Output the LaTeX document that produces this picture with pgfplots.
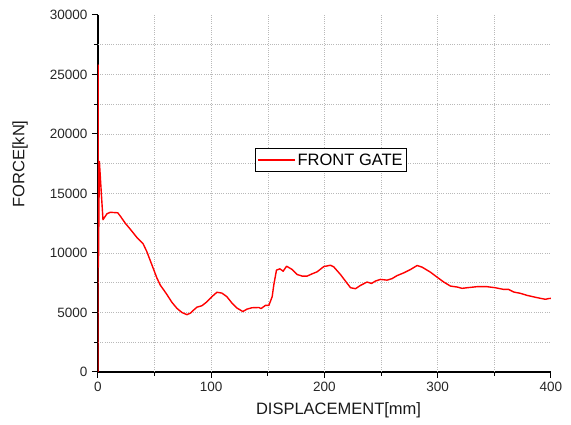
\documentclass[border=0pt]{standalone}
\usepackage{pgfplots}
\pgfplotsset{compat=1.18}
\usepackage{fontspec}
\setmainfont{Liberation Sans}
\begin{document}
\begin{tikzpicture}[x=1pt,y=1pt]
\path[use as bounding box] (0,0) rectangle (571,425);
\begin{axis}[
  scale only axis,
  width=453pt, height=357pt,
  at={(98pt,53pt)}, anchor=south west,
  xmin=0, xmax=400, ymin=0, ymax=30000,
  axis x line*=bottom, axis y line*=left,
  axis line style={black, line width=1.3pt, -},
  xtick={0,100,200,300,400},
  minor xtick={50,150,250,350},
  ytick={0,5000,...,30000},
  minor ytick={2500,7500,...,27500},
  tick align=outside,
  major tick length=6pt, minor tick length=4pt,
  tick style={black, line width=1pt},
  scaled ticks=false,
  /pgf/number format/assume math mode=true,
  /pgf/number format/1000 sep={},
  ticklabel style={font=\fontsize{13.5}{14}\selectfont, text=black!85},
  xticklabel style={yshift=-1pt},
  yticklabel style={xshift=-1pt},
  extra x ticks={50,100,...,350},
  extra x tick labels={},
  extra y ticks={2500,5000,...,27500},
  extra y tick labels={},
  extra tick style={grid=major, major tick length=0pt},
  major grid style={gray!55, line width=0.6pt, dash pattern=on 1pt off 1.2pt},
  xlabel={DISPLACEMENT[mm]},
  ylabel={FORCE[kN]},
  label style={font=\fontsize{16.5}{18}\selectfont, text=black!90},
  xlabel style={at={(axis description cs:0.531,-0.1064)}, anchor=center},
  ylabel style={at={(axis description cs:-0.1722,0.5826)}, anchor=center},
  legend style={at={(axis description cs:0.3466,0.627)}, anchor=north west,
    draw=black, line width=0.8pt, font=\fontsize{16.5}{18}\selectfont,
    inner xsep=2pt, inner ysep=3pt, row sep=0pt},
  legend cell align=left,
  legend image code/.code={\draw[#1, line width=1.2pt] (0pt,0pt) -- (37pt,0pt);},
]
\addplot[red, line width=1.4pt, line join=round] coordinates {
(0,0) (0.1,25800) (0.4,8800) (1.2,17700) (4.4,12800) (7.9,13300) (10.9,13420)
(17.4,13380) (19.7,13100) (24.1,12500) (28.5,12000) (34.4,11300) (39.7,10800)
(43.2,10100) (47.6,9000) (52,7900) (55,7300) (58,6900) (60.9,6500) (65.3,5850)
(69.7,5350) (74.1,5000) (78.5,4820) (81.5,4940) (84.4,5200) (87.4,5450)
(91.8,5570) (96.2,5900) (100.6,6330) (105,6700) (109.4,6630) (113.8,6330)
(118.2,5800) (122.6,5380) (127.9,5080) (131.5,5280) (135.9,5400) (142,5420)
(144,5330) (147.9,5600) (150.9,5600) (153.8,6330) (155.3,7360) (157.6,8560)
(160.6,8670) (163.5,8470) (166.5,8890) (171.5,8610) (175.9,8190) (180.3,8060)
(184.7,8060) (189.1,8250) (193.5,8420) (199.4,8860) (205.3,8970) (208.2,8830)
(214.1,8190) (218.5,7640) (223,7080) (227.4,7000) (231.8,7280) (237.6,7560)
(241.5,7440) (245,7640) (249.4,7780) (255.3,7720) (259.7,7850) (264.1,8100)
(270,8330) (275.9,8610) (281.8,8950) (286.2,8810) (293.5,8390) (299.4,7970)
(305.3,7560) (311.2,7220) (317.1,7140) (321.5,7030) (325.9,7080) (334.7,7170)
(343.5,7170) (350.9,7080) (358.2,6940) (362.6,6940) (367.1,6720) (373,6610)
(378.8,6440) (387.6,6250) (395,6110) (397.9,6170) (400,6190)
};
\addlegendentry{FRONT GATE}
\end{axis}
\end{tikzpicture}
\end{document}
